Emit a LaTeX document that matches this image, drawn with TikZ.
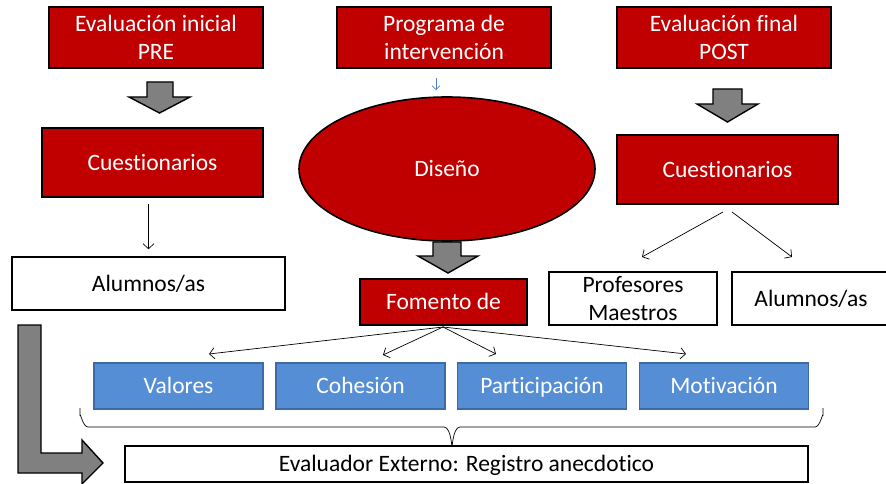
\documentclass[tikz,border=0pt]{standalone}
\usepackage{fontspec}
\setmainfont{Carlito}[Ligatures=NoCommon]
\usetikzlibrary{arrows.meta,shapes.geometric,calc}
\definecolor{boxred}{RGB}{192,0,0}
\definecolor{boxblue}{RGB}{85,142,213}
\definecolor{boxblueline}{RGB}{62,106,168}
\definecolor{arrowgray}{RGB}{128,128,128}
\definecolor{smallblue}{RGB}{79,129,189}
\begin{document}
\begin{tikzpicture}[x=1pt,y=-1pt,
  txt/.style={font=\fontsize{23.5}{28}\selectfont, align=center, inner sep=0pt},
  oneline/.style={text height=15pt, text depth=0pt},
  redbox/.style={txt, draw=black, line width=1.6pt, fill=boxred, text=white},
  whitebox/.style={txt, draw=black, line width=1.6pt, fill=white, text=black},
  bluebox/.style={txt, oneline, draw=boxblueline, line width=1.2pt, fill=boxblue, text=white,
     minimum width=169pt, minimum height=46pt},
  blockarrow/.style={draw=black, line width=1.4pt, fill=arrowgray, line join=miter},
  thinarrow/.style={draw=black, line width=0.7pt, -{Straight Barb[length=5pt,width=11pt]}},
]
\useasboundingbox (0,0) rectangle (886,484);

% top row
\node[redbox, minimum width=214pt, minimum height=61pt] (pre) at (156,37.5) {Evaluación inicial\\PRE};
\node[redbox, minimum width=214pt, minimum height=61pt] (prog) at (444,37.5) {Programa de\\intervención};
\node[redbox, minimum width=214pt, minimum height=61pt] (post) at (724,37.5) {Evaluación final\\POST};

% second row
\node[redbox, oneline, minimum width=221pt, minimum height=69pt] (cl) at (152.5,162.5) {Cuestionarios};
\node[redbox, oneline, ellipse, minimum width=296pt, minimum height=144pt] (dis) at (447,169) {Diseño};
\node[redbox, oneline, minimum width=221pt, minimum height=69pt] (cr) at (727.5,169.5) {Cuestionarios};

% third row
\node[whitebox, oneline, minimum width=273pt, minimum height=53pt] (al) at (148.5,283.5) {Alumnos/as};
\node[redbox, oneline, minimum width=167pt, minimum height=46pt] (fom) at (443.5,302) {Fomento de};
\node[whitebox, minimum width=168pt, minimum height=53pt] (prof) at (633,298.5) {Profesores\\Maestros};
\node[whitebox, oneline, minimum width=230pt, minimum height=53pt] (ar) at (847,298.5) {\hspace*{-72pt}Alumnos/as};

% blue row
\node[bluebox] (val) at (178.5,386) {Valores};
\node[bluebox] (coh) at (360.5,386) {Cohesión};
\node[bluebox] (par) at (542,386) {Participación};
\node[bluebox] (mot) at (724,386) {Motivación};

% bottom
\node[whitebox, oneline, minimum width=683pt, minimum height=36pt] (ev) at (466.5,464) {Evaluador Externo: Registro anecdotico};

% block arrows
\draw[blockarrow] (147,82) -- (173,82) -- (173,97) -- (190,97) -- (159.5,113) -- (129,97) -- (147,97) -- cycle;
\draw[blockarrow] (713,89) -- (742,89) -- (742,104) -- (758,104) -- (727.5,122) -- (697,104) -- (713,104) -- cycle;
\draw[blockarrow] (433,242) -- (461,242) -- (461,256) -- (478,256) -- (448,273) -- (418,256) -- (433,256) -- cycle;
\draw[blockarrow] (18,325) -- (41,325) -- (41,453) -- (82,453) -- (82,440) -- (103,463) -- (82,484) -- (82,473) -- (18,473) -- cycle;

% small blue arrow
\draw[smallblue, line width=0.8pt, -{Straight Barb[length=4pt,width=8pt]}] ($(prog.south)+(-8,9)$) -- ($(dis.north)+(-11,-6)$);

% thin arrows
\draw[thinarrow] ($(al.north |- cl.south)+(0,6)$) -- ($(al.north)+(0,-7)$);
\coordinate (crA) at (723,212);
\coordinate (crB) at (732,212);
\coordinate (profT) at (642,257);
\coordinate (arT) at (792,257);
\draw[thinarrow] (crA) -- (profT);
\draw[thinarrow] (crB) -- (arT);

\coordinate (fomB) at (443,327);
\coordinate (valT) at (209,354);
\coordinate (cohT) at (383,355);
\coordinate (parT) at (496,354);
\coordinate (motT) at (686,354);
\draw[thinarrow] (fomB) -- (valT);
\draw[thinarrow] (fomB) -- (cohT);
\draw[thinarrow] (fomB) -- (parT);
\draw[thinarrow] (fomB) -- (motT);

% brace
\coordinate (bl) at (80,408);
\coordinate (br) at (823,408);
\coordinate (bx) at (452,0);
\coordinate (bt) at (ev.north -| bx);
\draw[black, line width=0.7pt] (bl) -- (80,416) to[out=90,in=180] (88,427) -- (444,427) to[out=0,in=270] (bt);
\draw[black, line width=0.7pt] (bt) to[out=270,in=180] (460,427) -- (815,427) to[out=0,in=90] (823,416) -- (br);
\end{tikzpicture}
\end{document}
